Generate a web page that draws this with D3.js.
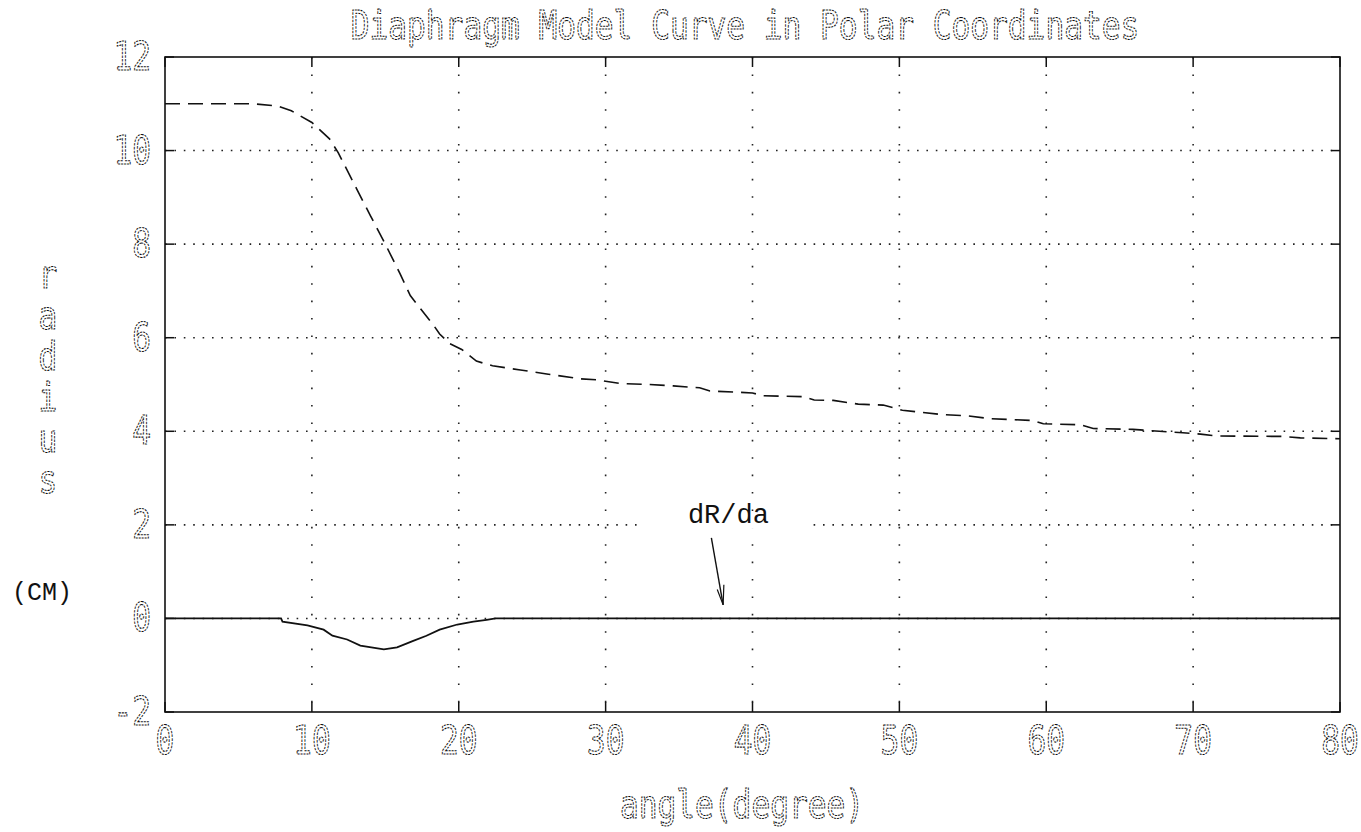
<!DOCTYPE html>
<html lang="en">
<head>
<meta charset="UTF-8">
<title>Diaphragm Model Curve in Polar Coordinates</title>
<script src="https://d3js.org/d3.v7.min.js"></script>
<style>
  body { margin: 0; background: #fff; }
  .outline {
    font-family: "DejaVu Sans Mono", monospace;
    font-size: 39px;
    fill: none;
    stroke: #111;
    stroke-width: 1.1;
    stroke-dasharray: 2.5,1.2;
  }
  .mono {
    font-family: "Liberation Mono", "Courier New", monospace;
    fill: #111;
  }
  .grid line { stroke: #222; stroke-width: 1.6; }
</style>
</head>
<body>
<svg width="1361" height="832"></svg>
<script>
// radius curve (degrees, cm)
const angle = [0, 2, 4, 6, 7.7, 8.6, 10, 11.2, 11.8, 13.1, 14, 15, 16, 16.7, 17.4, 18.3, 18.7, 19.4,
  20.2, 20.8, 21.2, 22.3, 24.2, 26.1, 28.3, 29.4, 31, 33, 34.6, 36.4, 37.1, 40, 40.7, 43.5, 44.2,
  45.5, 47.2, 48.9, 50.2, 52.8, 54.6, 56.2, 59.1, 59.8, 62.3, 63.2, 65.9, 67.7, 69.3, 70.5, 71.6,
  76.1, 77.3, 80];
const radius = [11.0, 11.0, 11.0, 11.0, 10.95, 10.85, 10.6, 10.25, 9.95, 9.15, 8.6, 8.0, 7.37, 6.9,
  6.62, 6.26, 6.08, 5.87, 5.75, 5.6, 5.5, 5.4, 5.31, 5.22, 5.12, 5.1, 5.02, 5.0, 4.97, 4.93, 4.86,
  4.82, 4.76, 4.74, 4.67, 4.66, 4.58, 4.56, 4.45, 4.36, 4.33, 4.27, 4.23, 4.16, 4.14, 4.06, 4.04,
  4.0, 3.97, 3.94, 3.9, 3.89, 3.86, 3.84];

// derivative curve dR/da
const dAngle = [0, 7.9, 8.0, 9.7, 10.8, 11.4, 12.4, 13.3, 14.9, 15.8, 16.9, 17.8, 18.7, 19.9, 21, 21.9, 22.5, 80];
const dRda = [0, 0, -0.07, -0.15, -0.24, -0.37, -0.45, -0.58, -0.66, -0.62, -0.48, -0.37, -0.24, -0.13,
  -0.07, -0.03, 0, 0];

const xTicks = [0, 10, 20, 30, 40, 50, 60, 70, 80];
const yTicks = [-2, 0, 2, 4, 6, 8, 10, 12];
const yLabelLetters = ["r", "a", "d", "i", "u", "s"];

const svg = d3.select("svg");
const margin = {top: 57, right: 21, bottom: 120, left: 165};
const width = +svg.attr("width") - margin.left - margin.right;
const height = +svg.attr("height") - margin.top - margin.bottom;
const g = svg.append("g").attr("transform", `translate(${margin.left},${margin.top})`);

const x = d3.scaleLinear().domain([0, 80]).range([0, width]);
const y = d3.scaleLinear().domain([-2, 12]).range([height, 0]);
const sx = 0.8;

// grid
g.append("g").attr("class", "grid")
  .selectAll("line").data(yTicks.filter(d => d > -2 && d < 12)).enter().append("line")
  .attr("x1", 0).attr("x2", width)
  .attr("y1", d => y(d)).attr("y2", d => y(d))
  .attr("stroke-dasharray", "1.6,7.8");
g.append("g").attr("class", "grid")
  .selectAll("line").data(xTicks.filter(d => d > 0 && d < 80)).enter().append("line")
  .attr("x1", d => x(d)).attr("x2", d => x(d))
  .attr("y1", 0).attr("y2", height)
  .attr("stroke-dasharray", "1.6,15.8");

// tick marks on frame
const tk = g.append("g").attr("stroke", "#111").attr("stroke-width", 1.5);
xTicks.forEach(d => {
  tk.append("line").attr("x1", x(d)).attr("x2", x(d)).attr("y1", 0).attr("y2", 10);
  tk.append("line").attr("x1", x(d)).attr("x2", x(d)).attr("y1", height).attr("y2", height - 10);
});
yTicks.forEach(d => {
  tk.append("line").attr("x1", 0).attr("x2", 9).attr("y1", y(d)).attr("y2", y(d));
  tk.append("line").attr("x1", width).attr("x2", width - 9).attr("y1", y(d)).attr("y2", y(d));
});

// frame
g.append("rect").attr("width", width).attr("height", height)
  .attr("fill", "none").attr("stroke", "#111").attr("stroke-width", 1.6);

// data lines
const radiusData = angle.map((a, i) => ({a, v: radius[i]}));
const derivData = dAngle.map((a, i) => ({a, v: dRda[i]}));
const line = d3.line().x(d => x(d.a)).y(d => y(d.v));

g.append("path").datum(radiusData)
  .attr("d", line).attr("fill", "none")
  .attr("stroke", "#111").attr("stroke-width", 1.6)
  .attr("stroke-dasharray", "15,8");

g.append("path").datum(derivData)
  .attr("d", line).attr("fill", "none")
  .attr("stroke", "#111").attr("stroke-width", 1.8);

// dR/da annotation
g.append("rect")
  .attr("x", x(32.5)).attr("width", x(43.9) - x(32.5))
  .attr("y", y(2) - 4).attr("height", 8).attr("fill", "#fff");
g.append("text").attr("class", "mono")
  .attr("x", x(35.6)).attr("y", y(2.04))
  .attr("font-size", 27).text("dR/da");
g.append("line")
  .attr("x1", x(37.2)).attr("y1", y(1.72)).attr("x2", x(38.0)).attr("y2", y(0.29))
  .attr("stroke", "#111").attr("stroke-width", 1.4);
g.append("path")
  .attr("d", `M${x(37.6)},${y(0.62)} L${x(38.0)},${y(0.29)} L${x(38.05)},${y(0.72)}`)
  .attr("fill", "none").attr("stroke", "#111").attr("stroke-width", 1.2);

// tick labels
svg.append("g").selectAll("text").data(xTicks).enter().append("text")
  .attr("class", "outline")
  .attr("text-anchor", "middle")
  .attr("transform", d => `translate(${margin.left + x(d)},${margin.top + height + 42}) scale(${sx},1)`)
  .text(d => d);
svg.append("g").selectAll("text").data(yTicks).enter().append("text")
  .attr("class", "outline")
  .attr("text-anchor", "end")
  .attr("transform", d => `translate(151,${margin.top + y(d) + 13}) scale(${sx},1)`)
  .text(d => d);

// title and axis labels
svg.append("text").attr("class", "outline")
  .attr("text-anchor", "middle")
  .attr("transform", `translate(745,39) scale(${sx},1)`)
  .text("Diaphragm Model Curve in Polar Coordinates");
svg.append("text").attr("class", "outline")
  .attr("text-anchor", "middle")
  .attr("transform", `translate(742,818) scale(${sx},1)`)
  .text("angle(degree)");
svg.append("g").selectAll("text").data(yLabelLetters).enter().append("text")
  .attr("class", "outline")
  .attr("text-anchor", "middle")
  .attr("transform", (d, i) => `translate(48,${288 + i * 41}) scale(${sx},1)`)
  .text(d => d);
svg.append("text").attr("class", "mono")
  .attr("x", 12).attr("y", 600).attr("font-size", 25).text("(CM)");
</script>
</body>
</html>
